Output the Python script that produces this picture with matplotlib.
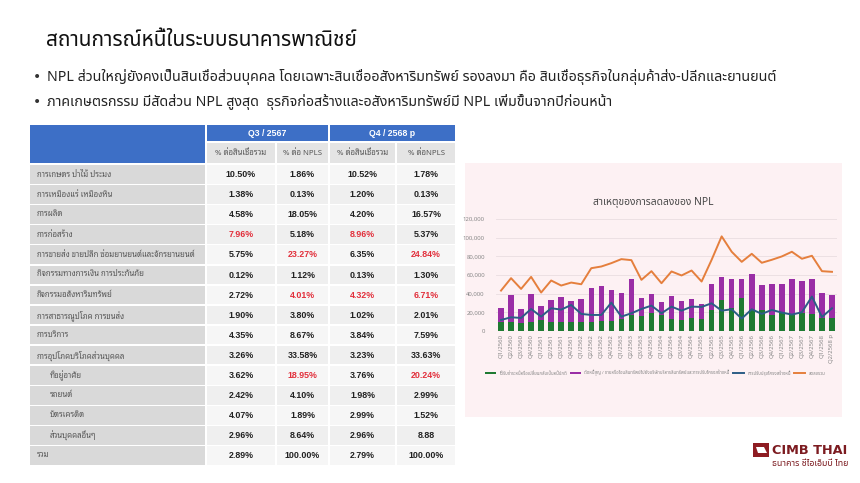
import matplotlib
matplotlib.use("Agg")
import matplotlib.pyplot as plt
from matplotlib.patches import Rectangle, Polygon

THAI = ['Noto Sans Thai', 'DejaVu Sans']
LOOP = ['Noto Sans Thai Looped', 'DejaVu Sans']
plt.rcParams['font.family'] = THAI

# ---- slide text ----
title = "สถานการณ์หนี้ในระบบธนาคารพาณิชย์"
bullets = ["NPL ส่วนใหญ่ยังคงเป็นสินเชื่อส่วนบุคคล โดยเฉพาะสินเชื่ออสังหาริมทรัพย์ รองลงมา คือ สินเชื่อธุรกิจในกลุ่มค้าส่ง-ปลีกและยานยนต์",
           "ภาคเกษตรกรรม มีสัดส่วน NPL สูงสุด  ธุรกิจก่อสร้างและอสังหาริมทรัพย์มี NPL เพิ่มขึ้นจากปีก่อนหน้า"]

# ---- table data ----
periods = ["Q3 / 2567", "Q4 / 2568 p"]
sub_headers = ["% ต่อสินเชื่อรวม", "% ต่อ NPLS", "% ต่อสินเชื่อรวม", "% ต่อNPLS"]
sectors = ["การเกษตร ป่าไม้ ประมง", "การเหมืองแร่ เหมืองหิน", "การผลิต", "การก่อสร้าง",
           "การขายส่ง ขายปลีก ซ่อมยานยนต์และจักรยานยนต์", "กิจกรรมทางการเงิน การประกันภัย",
           "กิจกรรมอสังหาริมทรัพย์", "การสาธารณูปโภค การขนส่ง", "การบริการ",
           "การอุปโภคบริโภคส่วนบุคคล", "ที่อยู่อาศัย", "รถยนต์", "บัตรเครดิต", "ส่วนบุคคลอื่นๆ", "รวม"]
sub_items = ["ที่อยู่อาศัย", "รถยนต์", "บัตรเครดิต", "ส่วนบุคคลอื่นๆ"]
q3_loans = ["10.50%", "1.38%", "4.58%", "7.96%", "5.75%", "0.12%", "2.72%", "1.90%", "4.35%",
            "3.26%", "3.62%", "2.42%", "4.07%", "2.96%", "2.89%"]
q3_npls = ["1.86%", "0.13%", "18.05%", "5.18%", "23.27%", "1.12%", "4.01%", "3.80%", "8.67%",
           "33.58%", "18.95%", "4.10%", "1.89%", "8.64%", "100.00%"]
q4_loans = ["10.52%", "1.20%", "4.20%", "8.96%", "6.35%", "0.13%", "4.32%", "1.02%", "3.84%",
            "3.23%", "3.76%", "1.98%", "2.99%", "2.96%", "2.79%"]
q4_npls = ["1.78%", "0.13%", "16.57%", "5.37%", "24.84%", "1.30%", "6.71%", "2.01%", "7.59%",
           "33.63%", "20.24%", "2.99%", "1.52%", "8.88", "100.00%"]
# cells shown in red: (column, row)
highlight = [(0, 3), (1, 4), (1, 6), (1, 10), (2, 3), (2, 6), (3, 4), (3, 6), (3, 10)]

# ---- chart data ----
quarters = ["Q1/2560", "Q2/2560", "Q3/2560", "Q4/2560", "Q1/2561", "Q2/2561", "Q3/2561", "Q4/2561",
            "Q1/2562", "Q2/2562", "Q3/2562", "Q4/2562", "Q1/2563", "Q2/2563", "Q3/2563", "Q4/2563",
            "Q1/2564", "Q2/2564", "Q3/2564", "Q4/2564", "Q1/2565", "Q2/2565", "Q3/2565", "Q4/2565",
            "Q1/2566", "Q2/2566", "Q3/2566", "Q4/2566", "Q1/2567", "Q2/2567", "Q3/2567", "Q4/2567",
            "Q1/2568", "Q2/2568 p"]
repaid = [9300, 10000, 8200, 10000, 11800, 10000, 10000, 10000, 9300, 10000, 10700, 11100,
          12900, 17100, 16100, 19600, 17100, 12500, 11800, 13600, 12500, 22500, 33200, 24300,
          35000, 22500, 22500, 17100, 20700, 17100, 18900, 17900, 13600, 14300]
bar_total = [25000, 38700, 23300, 40100, 26900, 33300, 36900, 32200, 34700, 46200, 48400, 44400,
             41200, 55500, 35500, 39800, 31200, 38000, 32600, 34400, 29400, 50100, 58000, 55900,
             55900, 61300, 49800, 50100, 50100, 55200, 54100, 55900, 40500, 38700]
restructured = [11800, 14700, 14000, 23600, 15400, 24400, 22900, 27900, 18300, 17200, 17200, 30400,
                15400, 19000, 23600, 27200, 19000, 26100, 21800, 26100, 25800, 29700, 21800, 23300,
                13300, 23300, 18300, 22600, 19700, 17600, 20100, 36900, 15000, 24400]
total_decrease = [43300, 56600, 45100, 58000, 41200, 54100, 48700, 51900, 50100, 67300, 69100, 72700,
                  77000, 75900, 54800, 64100, 51200, 63800, 59500, 64800, 53000, 76300, 101400, 84900,
                  74100, 82700, 73100, 76300, 79900, 84900, 77400, 80600, 64100, 63400]
writeoff = [t - r for t, r in zip(bar_total, repaid)]
legend_names = ["ได้รับชำระหนี้หรือเปลี่ยนกลับเป็นหนี้ปกติ",
                "ตัดหนี้สูญ / ขายหรือโอนสินทรัพย์ไปยังบริษัทบริหารสินทรัพย์และการปรับโครงสร้างหนี้",
                "การปรับปรุงโครงสร้างหนี้", "ลดลงรวม"]

W, H = 860, 483
fig = plt.figure(figsize=(W / 100, H / 100), dpi=100)
bg = fig.add_axes([0, 0, 1, 1])
bg.set_xlim(0, W)
bg.set_ylim(H, 0)
bg.axis('off')

bg.text(46, 41, title, fontsize=15, color='#111111', va='center', ha='left')
for i, b in enumerate(bullets):
    y = 77 + i * 25
    bg.text(37, y, "•", fontsize=10, color='#333333', va='center', ha='center', family='DejaVu Sans')
    bg.text(47, y, b, fontsize=10.25, color='#222222', va='center', ha='left')

# ---- table ----
blue = '#3d6fc6'
col_x = [(207, 275), (277, 328), (330, 395), (397, 455)]
bg.add_patch(Rectangle((30, 125), 175, 38, color=blue, lw=0))
for k, (x0, x1) in enumerate([(207, 328), (330, 455)]):
    bg.add_patch(Rectangle((x0, 125), x1 - x0, 16, color=blue, lw=0))
    bg.text((x0 + x1) / 2, 133.5, periods[k], fontsize=6.3, color='white', weight='bold',
            ha='center', va='center', family=['Liberation Sans'])
for k, (x0, x1) in enumerate(col_x):
    bg.add_patch(Rectangle((x0, 143), x1 - x0, 20, color='#e4e4e4', lw=0))
    bg.text((x0 + x1) / 2, 153.5, sub_headers[k], fontsize=5.6, color='#555555',
            ha='center', va='center', family=LOOP)

columns = [q3_loans, q3_npls, q4_loans, q4_npls]
for r, name in enumerate(sectors):
    y0 = 165 + r * 20.1
    bg.add_patch(Rectangle((30, y0), 175, 18.5, color='#d9d9d9', lw=0))
    indent = 50 if name in sub_items else 37
    bg.text(indent, y0 + 9.5, name, fontsize=5.6, color='#555555', ha='left', va='center', family=LOOP)
    shade = '#f6f6f6' if r % 2 == 0 else '#efefef'
    for c, (x0, x1) in enumerate(col_x):
        bg.add_patch(Rectangle((x0, y0), x1 - x0, 18.5, color=shade, lw=0))
        colr = '#e2303c' if (c, r) in highlight else '#222222'
        bg.text((x0 + x1) / 2, y0 + 9.5, columns[c][r], fontsize=6.4, color=colr, weight='bold',
                ha='center', va='center', family=['Liberation Sans'])

# ---- chart panel ----
bg.add_patch(Rectangle((465, 163), 377, 254, color='#fdf1f3', lw=0))
bg.text(653, 203, "สาเหตุของการลดลงของ NPL", fontsize=7.4, color='#4a4a4a', weight='bold',
        ha='center', va='center')

ax = fig.add_axes([496 / W, 1 - 331 / H, (837 - 496) / W, (331 - 219) / H])
ax.patch.set_alpha(0)
x = list(range(len(quarters)))
b1 = ax.bar(x, repaid, width=0.55, color='#1f7a32', label=legend_names[0], zorder=2)
b2 = ax.bar(x, writeoff, width=0.55, bottom=repaid, color='#9a2ea6', label=legend_names[1], zorder=2)
l1, = ax.plot(x, restructured, color='#2c5d86', lw=1.4, label=legend_names[2], zorder=3)
l2, = ax.plot(x, total_decrease, color='#e57f3d', lw=1.4, label=legend_names[3], zorder=3)
ax.set_ylim(0, 120000)
ax.set_xlim(-0.5, len(quarters) - 0.5)
ax.set_yticks(range(0, 120001, 20000))
ax.set_yticklabels(["{:,}".format(v) if v else "0" for v in range(0, 120001, 20000)])
ax.set_xticks(x)
ax.set_xticklabels(quarters, rotation=90)
ax.tick_params(axis='both', length=0, labelsize=4.3, labelcolor='#888888', pad=2)
ax.tick_params(axis='y', pad=8)
ax.grid(axis='y', color='#e9dde0', lw=0.6, zorder=0)
for s in ax.spines.values():
    s.set_visible(False)
leg = fig.legend([b1, b2, l1, l2], legend_names, loc='center',
                 bbox_to_anchor=(655 / W, 1 - 373 / H), ncol=4, fontsize=3.1,
                 frameon=False, handlelength=2.6, handleheight=0.5, columnspacing=0.8,
                 handletextpad=0.7)
for t in leg.get_texts():
    t.set_color('#888888')

# ---- logo ----
bg.add_patch(Rectangle((753, 443), 16, 14, color='#8e1c22', lw=0))
bg.add_patch(Polygon([(756, 447), (764, 447), (767, 453), (758, 453)], closed=True, color='white', lw=0))
bg.text(772, 450.5, "CIMB THAI", fontsize=9.3, color='#7c1b20', weight='bold', ha='left',
        va='center', family='DejaVu Sans')
bg.text(772, 463, "ธนาคาร ซีไอเอ็มบี ไทย", fontsize=6.4, color='#7c1b20', weight='bold',
        ha='left', va='center')

fig.savefig("out.png", dpi=100)
